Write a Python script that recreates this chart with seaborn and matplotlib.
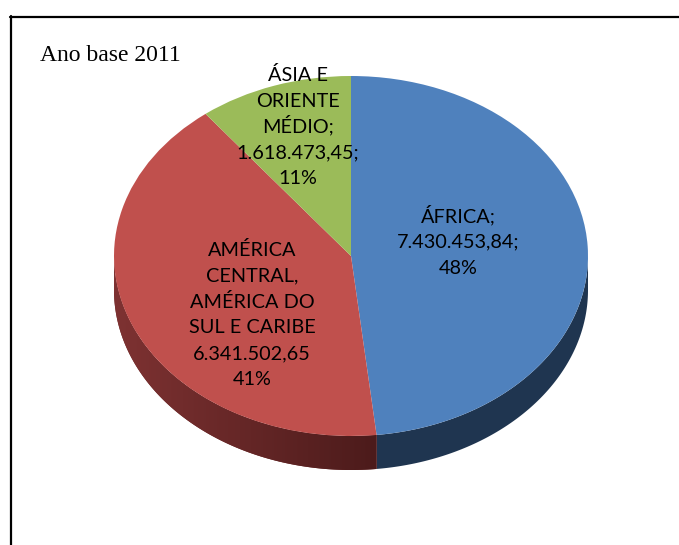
import numpy as np
import matplotlib
matplotlib.use("Agg")
import matplotlib.pyplot as plt
import seaborn as sns
from matplotlib.patches import Polygon
from matplotlib.lines import Line2D
from matplotlib.colors import LinearSegmentedColormap

# ---- data ----
regions = ["ÁFRICA", "AMÉRICA\nCENTRAL,\nAMÉRICA DO\nSUL E CARIBE", "ÁSIA E\nORIENTE\nMÉDIO"]
values = [7430453.84, 6341502.65, 1618473.45]
value_labels = ["7.430.453,84", "6.341.502,65", "1.618.473,45"]
percent_labels = ["48%", "41%", "11%"]
title_text = "Ano base 2011"

sns.set_theme(style="white")
plt.rcParams["font.family"] = ["Lato", "DejaVu Sans"]

top_colors = ["#4F81BD", "#C0504D", "#9BBB59"]
side_colors = ["#1F3550", "#6A2828", "#5C7330"]

W, H = 679, 545
fig = plt.figure(figsize=(W / 100, H / 100), dpi=100)
ax = fig.add_axes([0, 0, 1, 1])

# pixel geometry of the ellipse
cx, cy, rx, ry, depth_px = 351, 256, 237, 180, 34
depth = depth_px / ry

# ---- side walls ----
fr = np.array(values) / np.sum(values)
cum = np.concatenate([[0], np.cumsum(fr)])
for i in range(len(values)):
    a_start = 90 - 360 * cum[i]
    a_end = 90 - 360 * cum[i + 1]
    t = np.radians(np.linspace(a_end, a_start, 600))
    vis = np.sin(t) <= 0.0
    if vis.sum() < 2:
        continue
    tv = t[vis]
    xs, ys = np.cos(tv), np.sin(tv)
    pts = np.vstack([np.column_stack([xs, ys]),
                     np.column_stack([xs[::-1], ys[::-1] - depth])])
    poly = Polygon(pts, closed=True, facecolor=side_colors[i], edgecolor="none", zorder=1)
    ax.add_patch(poly)
    if i == 1:
        cmap = LinearSegmentedColormap.from_list("rside", ["#7E3232", "#4C1B1B"])
        grad = np.linspace(0, 1, 256).reshape(1, -1)
        x0, x1 = xs.min(), xs.max()
        im = ax.imshow(grad, cmap=cmap, aspect="auto",
                       extent=[x0, x1, ys.min() - depth, ys.max()], zorder=2)
        im.set_clip_path(poly)

# ---- top pie ----
ax.pie(values, colors=top_colors, startangle=90, counterclock=False,
       radius=1, center=(0, 0), wedgeprops=dict(linewidth=0, zorder=3))
ax.set_aspect("auto")
ax.set_xlim(-cx / rx, (W - cx) / rx)
ax.set_ylim((cy - H) / ry, cy / ry)
ax.axis("off")

# ---- labels (one text per line for even spacing) ----
def fpos(px, py):
    return px / W, 1 - py / H

lab_pos = [(458, 222), (252, 256), (298, 81)]   # x centre, first baseline (px)
pitch = 25.8
texts = [
    f"{regions[0]};\n{value_labels[0]};\n{percent_labels[0]}",
    f"{regions[1]}\n{value_labels[1]}\n{percent_labels[1]}",
    f"{regions[2]};\n{value_labels[2]};\n{percent_labels[2]}",
]
for (px, py), s in zip(lab_pos, texts):
    for k, line in enumerate(s.split("\n")):
        x, y = fpos(px, py + k * pitch)
        fig.text(x, y, line, ha="center", va="baseline", fontsize=14.3,
                 color="black", transform=fig.transFigure, zorder=5)

x, y = fpos(40, 61)
fig.text(x, y, title_text, ha="left", va="baseline", fontsize=17,
         family=["Liberation Serif", "DejaVu Serif"], color="black")

# ---- frame ----
fig.add_artist(Line2D([10.5 / W, 10.5 / W], [0, 1 - 16 / H], color="black", lw=1.6,
                      transform=fig.transFigure))
fig.add_artist(Line2D([10 / W, 1], [1 - 16.5 / H, 1 - 16.5 / H], color="black", lw=1.6,
                      transform=fig.transFigure))

fig.savefig("out.png", dpi=100, facecolor="white")
